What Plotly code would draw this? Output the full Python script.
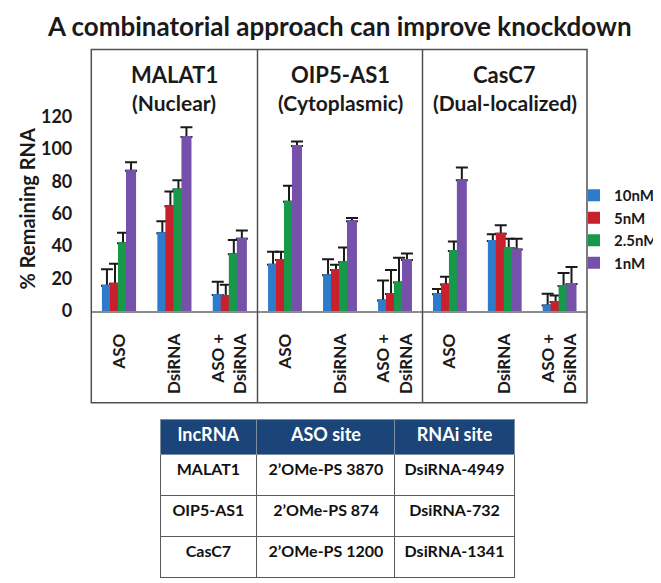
import plotly.graph_objects as go

W, H = 661, 583

# ---------------- data ----------------
panels = ["MALAT1", "OIP5-AS1", "CasC7"]
panel_sub = ["(Nuclear)", "(Cytoplasmic)", "(Dual-localized)"]
treatments = ["ASO", "DsiRNA", "ASO +<br>DsiRNA"]
series = ["10nM", "5nM", "2.5nM", "1nM"]
colors = ["#2E7BCB", "#C9202E", "#17994A", "#7551A9"]

# % remaining RNA, order: MALAT1(ASO, DsiRNA, ASO+DsiRNA), OIP5-AS1(...), CasC7(...)
val_10nM = [15.6, 47.9, 9.9, 28.5, 22.0, 6.5, 10.3, 43.2, 3.4]
val_5nM = [16.8, 64.6, 9.3, 31.5, 25.3, 10.5, 16.4, 47.7, 5.5]
val_2_5nM = [41.8, 75.0, 35.0, 67.3, 30.1, 17.6, 37.0, 38.8, 15.4]
val_1nM = [86.5, 107.3, 44.6, 101.8, 55.4, 31.5, 80.6, 38.0, 16.6]

err_10nM = [10.1, 7.5, 8.1, 8.1, 9.9, 12.3, 3.2, 4.1, 7.3]
err_5nM = [12.3, 9.1, 6.9, 5.1, 3.2, 14.8, 4.8, 5.2, 4.0]
err_2_5nM = [6.5, 5.6, 8.8, 9.9, 9.1, 15.3, 5.8, 5.8, 8.0]
err_1nM = [5.2, 6.0, 5.1, 2.8, 2.0, 3.9, 7.9, 6.6, 10.5]

y_ticks = [0, 20, 40, 60, 80, 100, 120]

tbl_header = ["lncRNA", "ASO site", "RNAi site"]
tbl_lnc = ["MALAT1", "OIP5-AS1", "CasC7"]
tbl_aso = ["2\u2019OMe-PS\u00a03870", "2\u2019OMe-PS\u00a0874", "2\u2019OMe-PS\u00a01200"]
tbl_rnai = ["DsiRNA-4949", "DsiRNA-732", "DsiRNA-1341"]

values = [val_10nM, val_5nM, val_2_5nM, val_1nM]
errors = [err_10nM, err_5nM, err_2_5nM, err_1nM]

# ---------------- layout helpers ----------------
FONT = "Lato"
def px_x(p):
    return p / W
def px_y(p):
    return (H - p) / H

x_edges = [83.3, 249.5, 414.5, 579.0]
y_top, y_base, y_frame_bottom = 42.3, 308.3, 401.7
ymax = (y_base - y_top) / 1.65

fig = go.Figure()

axis_names = ["x", "x2", "x3"]
for p in range(3):
    xa = axis_names[p]
    sl = slice(3 * p, 3 * p + 3)
    # bars with error bars
    for s in range(4):
        fig.add_trace(go.Bar(
            x=treatments, y=values[s][sl], name=f"<b>{series[s]}</b>",
            xaxis=xa, yaxis="y", offsetgroup=f"g{s}",
            marker=dict(color=colors[s], line=dict(width=0)),
            error_y=dict(type="data", array=errors[s][sl], symmetric=False,
                         arrayminus=[0, 0, 0], color="#1a1a1a",
                         thickness=2, width=6),
            showlegend=(p == 0), legendgroup=series[s],
            hoverinfo="skip",
        ))
    # cover traces hide the lower cap of the error bars
    for s in range(4):
        fig.add_trace(go.Bar(
            x=treatments, y=values[s][sl], name=series[s],
            xaxis=xa, yaxis="y", offsetgroup=f"g{s}",
            marker=dict(color=colors[s], line=dict(width=2, color=colors[s])),
            showlegend=False, legendgroup=series[s], hoverinfo="skip",
        ))

fig.add_trace(go.Table(
    domain=dict(x=[px_x(152), px_x(506)], y=[0.0, px_y(419)]),
    columnwidth=[96, 137, 118],
    header=dict(values=tbl_header, fill_color="#1B4579",
                line=dict(color="#7f8da0", width=1),
                font=dict(family=FONT, size=18, color="white", weight="bold"),
                align="center", height=35),
    cells=dict(values=[tbl_lnc, tbl_aso, tbl_rnai], fill_color="white",
               line=dict(color="#5a5a5a", width=1),
               font=dict(family=FONT, size=16, color="#111111", weight="bold"),
               align="center", height=41),
))

layout_axes = {}
for p in range(3):
    key = "xaxis" if p == 0 else f"xaxis{p + 1}"
    layout_axes[key] = dict(
        domain=[px_x(x_edges[p]), px_x(x_edges[p + 1])],
        anchor="y", type="category", range=[-0.5, 2.5],
        showline=True, linecolor="#8c8c8c", linewidth=2,
        showgrid=False, zeroline=False, ticks="",
        tickangle=-90, ticklabelstandoff=14,
        tickfont=dict(family=FONT, size=17, color="#1a1a1a", weight="bold"),
        fixedrange=True,
    )

fig.update_layout(
    width=W, height=H, autosize=False,
    margin=dict(l=0, r=0, t=0, b=0),
    paper_bgcolor="white", plot_bgcolor="rgba(0,0,0,0)",
    barmode="group", bargap=0.42, bargroupgap=0,
    font=dict(family=FONT, color="#1a1a1a"),
    yaxis=dict(domain=[px_y(y_base), px_y(y_top)], range=[0, ymax],
               tickvals=y_ticks, showgrid=False, zeroline=False,
               showline=False, ticks="", ticklabelstandoff=18,
               tickfont=dict(family=FONT, size=18, color="#1a1a1a", weight="bold"),
               anchor="x", fixedrange=True),
    legend=dict(x=px_x(566), y=px_y(174), xanchor="left", yanchor="top",
                bgcolor="rgba(0,0,0,0)", tracegroupgap=0, itemwidth=30,
                font=dict(family=FONT, size=15, color="#1a1a1a")),
    **layout_axes,
)

# frame
shapes = [dict(type="rect", xref="paper", yref="paper",
               x0=px_x(x_edges[0]), x1=px_x(x_edges[3]),
               y0=px_y(y_frame_bottom), y1=px_y(y_top),
               line=dict(color="#505050", width=1.5), layer="above")]
for xe in x_edges[1:3]:
    shapes.append(dict(type="line", xref="paper", yref="paper",
                       x0=px_x(xe), x1=px_x(xe),
                       y0=px_y(y_frame_bottom), y1=px_y(y_top),
                       line=dict(color="#505050", width=1.5), layer="above"))
fig.update_layout(shapes=shapes)

annotations = [
    dict(text="A combinatorial approach can improve knockdown", x=px_x(331), y=1.0,
         xref="paper", yref="paper", showarrow=False, xanchor="center", yanchor="top",
         font=dict(family=FONT, size=26, color="#1a1a1a", weight="bold")),
    dict(text="% Remaining RNA", x=px_x(19), y=px_y(205), xref="paper", yref="paper",
         showarrow=False, textangle=-90, xanchor="center", yanchor="middle",
         font=dict(family=FONT, size=20, color="#1a1a1a", weight="bold")),
]
for p in range(3):
    xd = ("x" if p == 0 else f"x{p + 1}") + " domain"
    annotations.append(dict(text=panels[p], x=0.5, y=px_y(68), xref=xd, yref="paper",
                            showarrow=False, xanchor="center", yanchor="middle",
                            font=dict(family=FONT, size=22, color="#1a1a1a", weight="bold")))
    annotations.append(dict(text=panel_sub[p], x=0.5, y=px_y(96), xref=xd, yref="paper",
                            showarrow=False, xanchor="center", yanchor="middle",
                            font=dict(family=FONT, size=21, color="#1a1a1a", weight="bold")))
fig.update_layout(annotations=annotations)

fig.write_html("out.html")
